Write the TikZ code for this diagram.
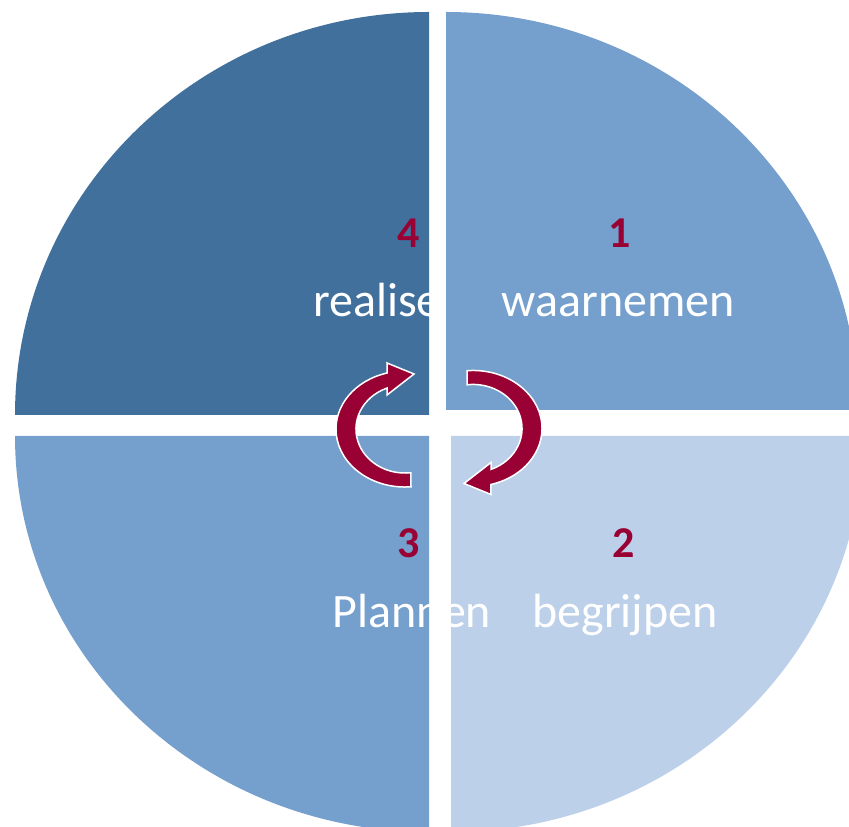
\documentclass[tikz,border=0pt]{standalone}
\usepackage{fontspec}
\setmainfont{Carlito}
\definecolor{qdark}{RGB}{65,112,156}
\definecolor{qmid}{RGB}{117,159,204}
\definecolor{qlight}{RGB}{189,208,233}
\definecolor{arrowred}{RGB}{153,0,51}
\tikzset{
  numlab/.style={anchor=base,inner sep=0pt,text=arrowred,font=\fontsize{44}{50}\selectfont\bfseries},
  txtlab/.style={anchor=base,inner sep=0pt,text=white,font=\fontsize{48}{56}\selectfont},
  cyclearrow/.style={fill=arrowred,draw=white,line width=1.5pt,line join=miter}
}
\def\myArrowPath{(411,340.2) arc[start angle=275,end angle=105,x radius=69,y radius=58] -- (387,464) -- (414,453) -- (387,432) -- (387.0,438.9) arc[start angle=111.5,end angle=277,x radius=49,y radius=44] -- cycle}
\begin{document}
\begin{tikzpicture}[x=1pt,y=1pt]
\useasboundingbox (0,0) rectangle (849,827);
\clip (0,0) rectangle (849,827);
% quadrants
\fill[qdark] (429,412) -- (15,412) arc[start angle=180,end angle=90,x radius=414,y radius=403] -- cycle;
\fill[qmid] (446,417) -- (446,815) arc[start angle=90,end angle=0,x radius=412,y radius=398] -- cycle;
\fill[qmid] (429,391) -- (15,391) arc[start angle=180,end angle=270,x radius=414,y radius=396] -- cycle;
\fill[qlight] (451,391) -- (863,391) arc[start angle=0,end angle=-90,x radius=412,y radius=396] -- cycle;
% labels
\node[numlab] (n4) at (409,579) {4};
\node[numlab] (n1) at (620,579) {1};
\node[numlab] (n3) at (409,269) {3};
\node[numlab] (n2) at (624,269) {2};
\node[txtlab] (t1) at (618.5,510) {waarnemen};
\node[txtlab,anchor=base west] (t4) at (313,510) {realise};
\node[txtlab] (t3) at (412,199) {Plannen};
\node[txtlab] (t2) at (625,199) {begrijpen};
% cycle arrows
\draw[cyclearrow] \myArrowPath;
\draw[cyclearrow,rotate around={180:(439,398.25)}] \myArrowPath;
\end{tikzpicture}
\end{document}
